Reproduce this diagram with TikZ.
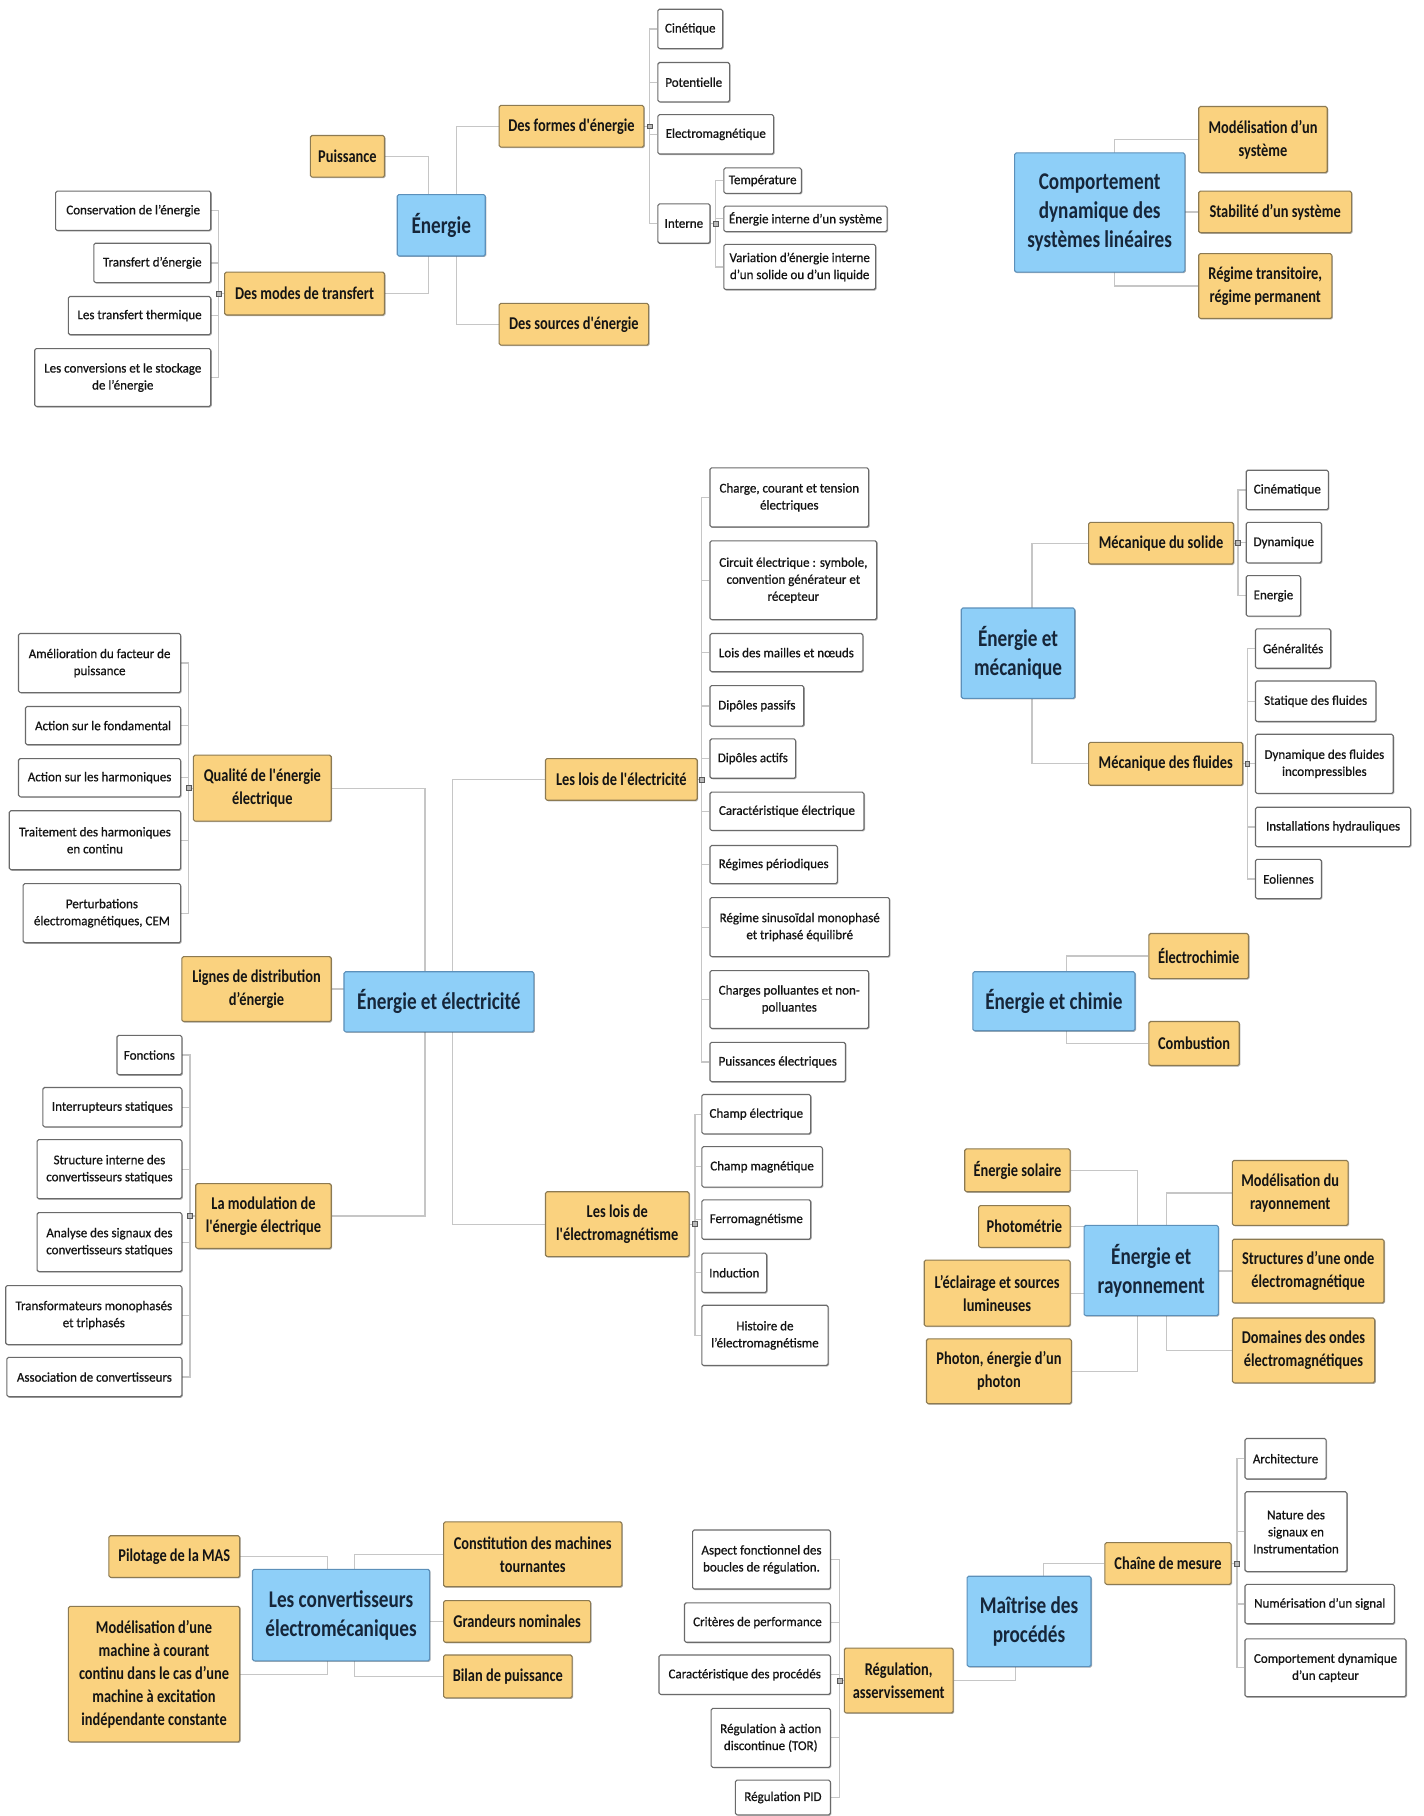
\documentclass[tikz,border=0pt]{standalone}
\usepackage{fontspec}
\setmainfont{Carlito}
\newfontfamily\condf[FakeStretch=0.8]{Carlito}
\newfontfamily\medf[FakeBold=0.7,FakeStretch=0.97]{Carlito}
\usetikzlibrary{backgrounds,shadows}
\definecolor{orf}{HTML}{FAD27F}
\definecolor{ord}{HTML}{8C7A52}
\definecolor{blf}{HTML}{8ECFF8}
\definecolor{bld}{HTML}{5C90BA}
\definecolor{wd}{HTML}{6A6A6A}
\definecolor{cn}{HTML}{C6C6C6}
\definecolor{txt}{HTML}{141414}
\definecolor{btxt}{HTML}{16263A}
\tikzset{
  base/.style={rectangle,inner sep=0pt,align=center,rounded corners=0.8pt,line width=0.55pt,text=txt,
    drop shadow={shadow xshift=0.5pt,shadow yshift=-0.5pt,opacity=0.3,fill=black}},
  wbox/.style={base,draw=wd,fill=white,font=\medf\fontsize{6.7}{8.5}\selectfont},
  obox/.style={base,draw=ord,fill=orf,font=\condf\bfseries\fontsize{9}{11.5}\selectfont},
  bbox/.style={base,draw=bld,fill=blf,text=btxt,font=\condf\bfseries\fontsize{12}{14.5}\selectfont},
  conn/.style={draw=cn,line width=0.6pt},
  mk/.style={rectangle,draw=gray!70!black,fill=gray!55,minimum size=2.4pt,inner sep=0pt,line width=0.3pt}
}
\newcommand\nd[7]{\node[#1,minimum width={(#5-#3)*0.579pt},minimum height={(#6-#4)*0.579pt}] (#2) at ({(#3+#5)/2},{(#4+#6)/2}) {#7};}
\begin{document}
\begin{tikzpicture}[x=0.579pt,y=-0.579pt]
\useasboundingbox (0,0) rectangle (1229,1568);
% ---------------- Section 1 : Energie
\nd{wbox}{cin}{568}{8}{624}{42}{Cinétique}
\nd{wbox}{pot}{568}{54}{630}{88}{Potentielle}
\nd{wbox}{elm}{568}{99}{668}{133}{Electromagnétique}
\nd{wbox}{int}{568}{176}{613}{210}{Interne}
\nd{wbox}{temp}{625}{145}{692}{167}{Température}
\nd{wbox}{eis}{625}{178}{766}{200}{Énergie interne d’un système}
\nd{wbox}{var}{625}{211}{756}{250}{Variation d’énergie interne\\d’un solide ou d’un liquide}
\nd{obox}{formes}{431}{91}{556}{127}{Des formes d'énergie}
\nd{obox}{puis}{268}{117}{332}{153}{Puissance}
\nd{bbox}{ener}{343}{168}{419}{221}{Énergie}
\nd{obox}{modes}{194}{235}{332}{272}{Des modes de transfert}
\nd{obox}{sources}{431}{262}{560}{298}{Des sources d'énergie}
\nd{wbox}{cons}{48}{165}{182}{199}{Conservation de l’énergie}
\nd{wbox}{trans}{81}{210}{182}{244}{Transfert d’énergie}
\nd{wbox}{therm}{59}{256}{182}{289}{Les transfert thermique}
\nd{wbox}{conv}{30}{301}{182}{351}{Les conversions et le stockage\\de l’énergie}
% ---------------- Section 2
\nd{bbox}{cdsl}{876}{132}{1023}{235}{Comportement\\dynamique des\\systèmes linéaires}
\nd{obox}{mods}{1035}{92}{1146}{149}{Modélisation d’un\\système}
\nd{obox}{stab}{1035}{165}{1167}{201}{Stabilité d’un système}
\nd{obox}{regt}{1035}{219}{1150}{275}{Régime transitoire,\\régime permanent}
% ---------------- Section 3 : electricite
\nd{bbox}{ee}{297}{839}{461}{891}{Énergie et électricité}
\nd{obox}{qual}{167}{652}{286}{709}{Qualité de l'énergie\\électrique}
\nd{obox}{lign}{157}{826}{286}{882}{Lignes de distribution\\d’énergie}
\nd{obox}{modu}{169}{1022}{286}{1078}{La modulation de\\l'énergie électrique}
\nd{obox}{lelec}{471}{655}{602}{691}{Les lois de l'électricité}
\nd{obox}{lem}{471}{1029}{595}{1085}{Les lois de\\l'électromagnétisme}
\nd{wbox}{amel}{16}{547}{156}{598}{Amélioration du facteur de\\puissance}
\nd{wbox}{actf}{22}{610}{156}{643}{Action sur le fondamental}
\nd{wbox}{acth}{16}{655}{156}{688}{Action sur les harmoniques}
\nd{wbox}{trai}{8}{700}{156}{751}{Traitement des harmoniques\\en continu}
\nd{wbox}{pert}{20}{763}{156}{814}{Perturbations\\électromagnétiques, CEM}
\nd{wbox}{fonc}{101}{894}{157}{928}{Fonctions}
\nd{wbox}{intr}{37}{939}{157}{973}{Interrupteurs statiques}
\nd{wbox}{stru}{32}{984}{157}{1035}{Structure interne des\\convertisseurs statiques}
\nd{wbox}{anal}{32}{1047}{157}{1098}{Analyse des signaux des\\convertisseurs statiques}
\nd{wbox}{tran}{5}{1110}{157}{1161}{Transformateurs monophasés\\et triphasés}
\nd{wbox}{asso}{6}{1172}{157}{1206}{Association de convertisseurs}
\nd{wbox}{c1}{613}{404}{750}{455}{Charge, courant et tension\\électriques}
\nd{wbox}{c2}{613}{467}{757}{535}{Circuit électrique : symbole,\\convention générateur et\\récepteur}
\nd{wbox}{c3}{613}{547}{745}{580}{Lois des mailles et nœuds}
\nd{wbox}{c4}{613}{592}{694}{627}{Dipôles passifs}
\nd{wbox}{c5}{613}{638}{687}{672}{Dipôles actifs}
\nd{wbox}{c6}{613}{684}{746}{717}{Caractéristique électrique}
\nd{wbox}{c7}{613}{730}{723}{763}{Régimes périodiques}
\nd{wbox}{c8}{613}{775}{768}{826}{Régime sinusoïdal monophasé\\et triphasé équilibré}
\nd{wbox}{c9}{613}{838}{750}{888}{Charges polluantes et non-\\polluantes}
\nd{wbox}{c10}{613}{900}{730}{934}{Puissances électriques}
\nd{wbox}{m1}{606}{945}{700}{979}{Champ électrique}
\nd{wbox}{m2}{606}{990}{710}{1025}{Champ magnétique}
\nd{wbox}{m3}{606}{1036}{700}{1070}{Ferromagnétisme}
\nd{wbox}{m4}{606}{1082}{662}{1116}{Induction}
\nd{wbox}{m5}{606}{1127}{715}{1179}{Histoire de\\l’électromagnétisme}
% ---------------- Mecanique
\nd{bbox}{em}{830}{525}{928}{603}{Énergie et\\mécanique}
\nd{obox}{sol}{940}{451}{1065}{487}{Mécanique du solide}
\nd{obox}{flu}{940}{641}{1073}{678}{Mécanique des fluides}
\nd{wbox}{s1}{1076}{406}{1147}{440}{Cinématique}
\nd{wbox}{s2}{1076}{451}{1141}{486}{Dynamique}
\nd{wbox}{s3}{1076}{497}{1123}{532}{Energie}
\nd{wbox}{f1}{1084}{543}{1149}{577}{Généralités}
\nd{wbox}{f2}{1084}{588}{1188}{623}{Statique des fluides}
\nd{wbox}{f3}{1084}{634}{1203}{685}{Dynamique des fluides\\incompressibles}
\nd{wbox}{f4}{1084}{697}{1218}{731}{Installations hydrauliques}
\nd{wbox}{f5}{1084}{742}{1141}{776}{Eoliennes}
% ---------------- Chimie
\nd{bbox}{ec}{840}{839}{980}{890}{Énergie et chimie}
\nd{obox}{echi}{992}{806}{1078}{845}{Électrochimie}
\nd{obox}{comb}{992}{882}{1070}{920}{Combustion}
% ---------------- Rayonnement
\nd{bbox}{er}{936}{1058}{1052}{1136}{Énergie et\\rayonnement}
\nd{obox}{sola}{833}{992}{924}{1029}{Énergie solaire}
\nd{obox}{phot}{845}{1041}{924}{1077}{Photométrie}
\nd{obox}{ecl}{798}{1088}{924}{1145}{L’éclairage et sources\\lumineuses}
\nd{obox}{phn}{800}{1156}{925}{1212}{Photon, énergie d’un\\photon}
\nd{obox}{modr}{1064}{1002}{1164}{1058}{Modélisation du\\rayonnement}
\nd{obox}{stru2}{1064}{1070}{1195}{1125}{Structures d’une onde\\électromagnétique}
\nd{obox}{dom}{1064}{1138}{1187}{1194}{Domaines des ondes\\électromagnétiques}
% ---------------- Convertisseurs
\nd{bbox}{ce}{218}{1355}{371}{1434}{Les convertisseurs\\électromécaniques}
\nd{obox}{pil}{94}{1326}{207}{1362}{Pilotage de la MAS}
\nd{obox}{modm}{59}{1387}{207}{1504}{Modélisation d’une\\machine à courant\\continu dans le cas d’une\\machine à excitation\\indépendante constante}
\nd{obox}{cons2}{383}{1314}{537}{1370}{Constitution des machines\\tournantes}
\nd{obox}{gran}{383}{1382}{510}{1418}{Grandeurs nominales}
\nd{obox}{bil}{383}{1429}{494}{1466}{Bilan de puissance}
% ---------------- Maitrise
\nd{bbox}{mp}{835}{1361}{942}{1439}{Maîtrise des\\procédés}
\nd{obox}{chm}{954}{1332}{1063}{1368}{Chaîne de mesure}
\nd{obox}{reg}{729}{1423}{823}{1479}{Régulation,\\asservissement}
\nd{wbox}{r1}{598}{1321}{717}{1372}{Aspect fonctionnel des\\boucles de régulation.}
\nd{wbox}{r2}{591}{1384}{717}{1418}{Critères de performance}
\nd{wbox}{r3}{569}{1429}{717}{1463}{Caractéristique des procédés}
\nd{wbox}{r4}{614}{1475}{717}{1526}{Régulation à action\\discontinue (TOR)}
\nd{wbox}{r5}{635}{1537}{717}{1567}{Régulation PID}
\nd{wbox}{k1}{1075}{1242}{1145}{1277}{Architecture}
\nd{wbox}{k2}{1075}{1288}{1163}{1357}{Nature des\\signaux en\\Instrumentation}
\nd{wbox}{k3}{1075}{1368}{1204}{1402}{Numérisation d’un signal}
\nd{wbox}{k4}{1075}{1415}{1214}{1465}{Comportement dynamique\\d’un capteur}
% ---------------- junction coordinates
\coordinate (eL) at (370,194); \coordinate (eR) at (394,194);
\coordinate (fb) at (561,109); \coordinate (ib) at (618,193); \coordinate (mb) at (189,253.5);
\coordinate (cv) at (962,183.5);
\coordinate (eeL) at (367,865); \coordinate (eeR) at (391,865);
\coordinate (qb) at (163,680.5); \coordinate (mob) at (164,1050);
\coordinate (leb) at (606,673); \coordinate (lmb) at (600,1057);
\coordinate (emv) at (891,564); \coordinate (sb) at (1069,469); \coordinate (fbus) at (1077,659.5);
\coordinate (ecv) at (921,864.5);
\coordinate (erL) at (982,1097); \coordinate (erR) at (1007,1097);
\coordinate (ceL) at (283,1394.5); \coordinate (ceR) at (306,1394.5);
\coordinate (mpL) at (877,1400); \coordinate (mpR) at (901,1400);
\coordinate (rb) at (725,1451); \coordinate (cb) at (1068,1350);
% markers
\foreach \p/\q in {fb/mk1,ib/mk2,mb/mk3,qb/mk4,mob/mk5,leb/mk6,lmb/mk7,sb/mk8,fbus/mk9,rb/mk10,cb/mk11}
  \node[mk] (\q) at (\p) {};
% ---------------- connectors (behind)
\begin{scope}[on background layer]
\fill[white] (0,0) rectangle (1229,1568);
\draw[conn] (puis.east) -| (eL); \draw[conn] (modes.east) -| (eL);
\draw[conn] (formes.west) -| (eR); \draw[conn] (sources.west) -| (eR);
\foreach \c in {cin,pot,elm,int} \draw[conn] (formes.east) -- (fb) |- (\c.west);
\foreach \c in {temp,eis,var} \draw[conn] (int.east) -- (ib) |- (\c.west);
\foreach \c in {cons,trans,therm,conv} \draw[conn] (modes.west) -- (mb) |- (\c.east);
\foreach \c in {mods,stab,regt} \draw[conn] (\c.west) -| (cv);
\foreach \c in {qual,lign,modu} \draw[conn] (\c.east) -| (eeL);
\foreach \c in {lelec,lem} \draw[conn] (\c.west) -| (eeR);
\foreach \c in {amel,actf,acth,trai,pert} \draw[conn] (qual.west) -- (qb) |- (\c.east);
\foreach \c in {fonc,intr,stru,anal,tran,asso} \draw[conn] (modu.west) -- (mob) |- (\c.east);
\foreach \c in {c1,c2,c3,c4,c5,c6,c7,c8,c9,c10} \draw[conn] (lelec.east) -- (leb) |- (\c.west);
\foreach \c in {m1,m2,m3,m4,m5} \draw[conn] (lem.east) -- (lmb) |- (\c.west);
\foreach \c in {sol,flu} \draw[conn] (\c.west) -| (emv);
\foreach \c in {s1,s2,s3} \draw[conn] (sol.east) -- (sb) |- (\c.west);
\foreach \c in {f1,f2,f3,f4,f5} \draw[conn] (flu.east) -- (fbus) |- (\c.west);
\foreach \c in {echi,comb} \draw[conn] (\c.west) -| (ecv);
\foreach \c in {sola,phot,ecl,phn} \draw[conn] (\c.east) -| (erL);
\foreach \c in {modr,stru2,dom} \draw[conn] (\c.west) -| (erR);
\foreach \c in {pil,modm} \draw[conn] (\c.east) -| (ceL);
\foreach \c in {cons2,gran,bil} \draw[conn] (\c.west) -| (ceR);
\draw[conn] (chm.west) -| (mpR); \draw[conn] (reg.east) -| (mpL);
\foreach \c in {r1,r2,r3,r4,r5} \draw[conn] (reg.west) -- (rb) |- (\c.east);
\foreach \c in {k1,k2,k3,k4} \draw[conn] (chm.east) -- (cb) |- (\c.west);
\end{scope}
\end{tikzpicture}
\end{document}
